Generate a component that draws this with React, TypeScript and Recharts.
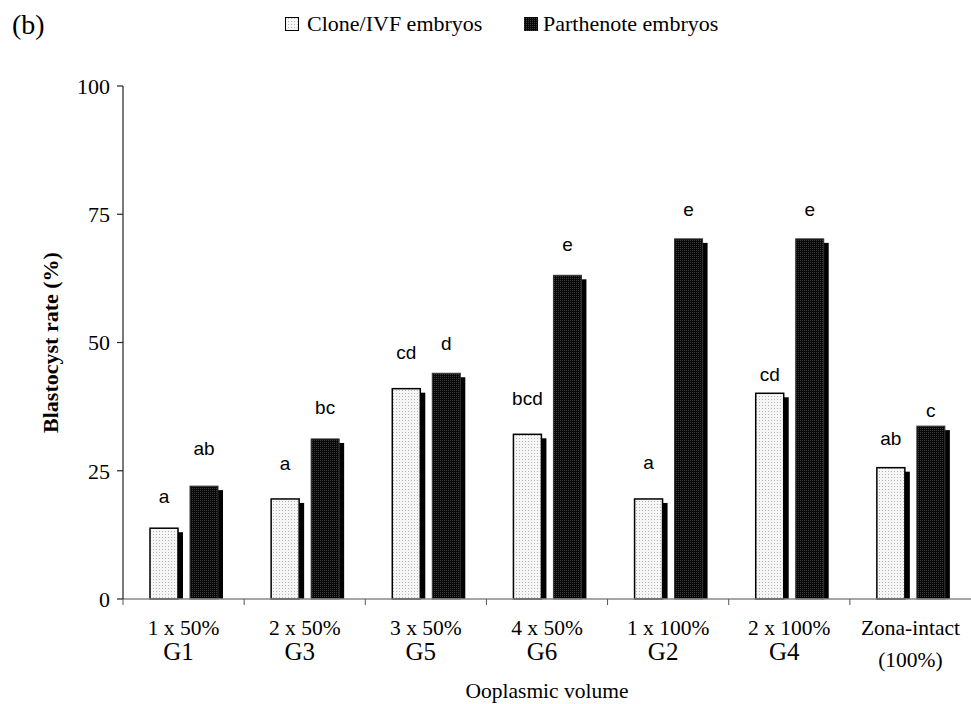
import React from "react";
import { BarChart, Bar, XAxis, YAxis, LabelList, Legend } from "recharts";

const groups = ["1 x 50%", "2 x 50%", "3 x 50%", "4 x 50%", "1 x 100%", "2 x 100%", "Zona-intact"];
const groupCodes = ["G1", "G3", "G5", "G6", "G2", "G4", "(100%)"];
const cloneRate = [13.8, 19.5, 41.0, 32.1, 19.5, 40.1, 25.6];
const parthRate = [22.0, 31.2, 44.0, 63.1, 70.2, 70.2, 33.7];
const cloneLetters = ["a", "a", "cd", "bcd", "a", "cd", "ab"];
const parthLetters = ["ab", "bc", "d", "e", "e", "e", "c"];
// height of the significance letter above each bar (percentage points)
const cloneLetterGap = [6.2, 7.0, 7.1, 6.9, 7.2, 3.6, 5.6];
const parthLetterGap = [7.4, 6.2, 5.8, 6.1, 5.7, 5.7, 3.1];
const yTicks = [0, 25, 50, 75, 100];

const data = groups.map((g, i) => ({
  group: g,
  code: groupCodes[i],
  clone: cloneRate[i],
  parth: parthRate[i],
}));

const SERIF = '"Liberation Serif", "Times New Roman", serif';
const SANS = '"Liberation Sans", Arial, sans-serif';

const makeShape = (fill: string, stroke: string, sw: number) => (props: any) => {
  const { x, y, width, height } = props;
  if (!height || height <= 0) return <g />;
  return (
    <g>
      <rect x={x + 5} y={y + 4} width={width} height={Math.max(0, height - 4)} fill="#000" />
      <rect x={x} y={y} width={width} height={height} fill={fill} stroke={stroke} strokeWidth={sw} />
    </g>
  );
};

const cloneShape = makeShape("url(#dotLight)", "#000", 1.5);
const parthShape = makeShape("url(#dotDark)", "#333", 1);

const makeLetter = (letters: string[], gaps: number[]) => (props: any) => {
  const { x, y, width, height, index, value } = props;
  const v = Number(value);
  if (!v) return null;
  const ppu = Number(height) / v;
  const cy = Number(y) - gaps[index] * ppu;
  return (
    <text
      x={Number(x) + Number(width) / 2}
      y={cy}
      textAnchor="middle"
      dominantBaseline="central"
      fontFamily={SANS}
      fontSize={19}
      fill="#000"
    >
      {letters[index]}
    </text>
  );
};

const XTick = (props: any) => {
  const { x, y, payload } = props;
  const i = payload.index;
  const half = payload.offset ?? 0;
  const axisY = y - 6;
  const code = groupCodes[i];
  const isG = code.startsWith("G");
  return (
    <g>
      <line x1={x - half} x2={x - half} y1={axisY} y2={axisY + 6} stroke="#555" strokeWidth={1} />
      <text x={x} y={axisY + 36} textAnchor="middle" fontFamily={SERIF} fontSize={21.5} fill="#000">
        {groups[i]}
      </text>
      <text
        x={isG ? x - 5 : x}
        y={isG ? axisY + 61 : axisY + 68}
        textAnchor="middle"
        fontFamily={SERIF}
        fontSize={isG ? 25 : 21.5}
        fill="#000"
      >
        {code}
      </text>
    </g>
  );
};

const YLabel = (props: any) => {
  const vb = props.viewBox || { x: 0, y: 86, width: 123, height: 513 };
  const cx = vb.x + 58;
  const cy = vb.y + vb.height / 2;
  return (
    <text
      x={cx}
      y={cy}
      transform={`rotate(-90 ${cx} ${cy})`}
      textAnchor="middle"
      fontFamily={SERIF}
      fontWeight="bold"
      fontSize={22}
      fill="#000"
    >
      Blastocyst rate (%)
    </text>
  );
};

const XLabel = (props: any) => {
  const vb = props.viewBox || { x: 123, y: 599, width: 848, height: 105 };
  return (
    <text x={vb.x + vb.width / 2} y={vb.y + 99} textAnchor="middle" fontFamily={SERIF} fontSize={21.5} fill="#000">
      Ooplasmic volume
    </text>
  );
};

const LegendContent = () => (
  <svg width={971} height={50} style={{ display: "block" }}>
    <text x={12} y={34} fontFamily={SERIF} fontSize={28} fill="#000">
      (b)
    </text>
    <rect x={285.5} y={17.5} width={13} height={13} fill="url(#dotLight)" stroke="#000" strokeWidth={1} />
    <text x={307} y={31} fontFamily={SERIF} fontSize={22} fill="#000">
      Clone/IVF embryos
    </text>
    <rect x={524} y={17} width={14} height={14} fill="url(#dotDark)" />
    <text x={543} y={31} fontFamily={SERIF} fontSize={22} fill="#000">
      Parthenote embryos
    </text>
  </svg>
);

export default function App() {
  return (
    <div style={{ position: "absolute", left: 0, top: 0, width: 971, height: 704, background: "#fff" }}>
      <svg width={0} height={0} style={{ position: "absolute" }}>
        <defs>
          <pattern id="dotLight" width="3" height="3" patternUnits="userSpaceOnUse">
            <rect width="3" height="3" fill="#f6f6f6" />
            <rect width="1" height="1" fill="#b4b4b4" />
          </pattern>
          <pattern id="dotDark" width="2" height="2" patternUnits="userSpaceOnUse">
            <rect width="2" height="2" fill="#080808" />
            <rect width="1" height="1" fill="#3c3c3c" />
          </pattern>
        </defs>
      </svg>
      <BarChart
        width={971}
        height={704}
        data={data}
        margin={{ top: 86, right: 0, bottom: 0, left: 0 }}
        barSize={28}
        barGap={12}
      >
        <Legend
          layout="vertical"
          align="center"
          verticalAlign="middle"
          wrapperStyle={{ position: "absolute", left: 0, top: 0, width: 971, height: 50 }}
          content={<LegendContent />}
        />
        <XAxis
          dataKey="group"
          height={105}
          interval={0}
          tickLine={false}
          tickSize={6}
          tickMargin={0}
          axisLine={{ stroke: "#888", strokeWidth: 1.5 }}
          tick={<XTick />}
          label={<XLabel />}
        />
        <YAxis
          width={123}
          domain={[0, 100]}
          ticks={yTicks}
          interval={0}
          tickSize={6}
          tickMargin={7}
          axisLine={{ stroke: "#222", strokeWidth: 1.2 }}
          tickLine={{ stroke: "#222", strokeWidth: 1.2 }}
          tick={{ fontFamily: SERIF, fontSize: 22, fill: "#000" }}
          label={<YLabel />}
        />
        <Bar dataKey="clone" isAnimationActive={false} shape={cloneShape}>
          <LabelList dataKey="clone" content={makeLetter(cloneLetters, cloneLetterGap)} />
        </Bar>
        <Bar dataKey="parth" isAnimationActive={false} shape={parthShape}>
          <LabelList dataKey="parth" content={makeLetter(parthLetters, parthLetterGap)} />
        </Bar>
      </BarChart>
    </div>
  );
}
